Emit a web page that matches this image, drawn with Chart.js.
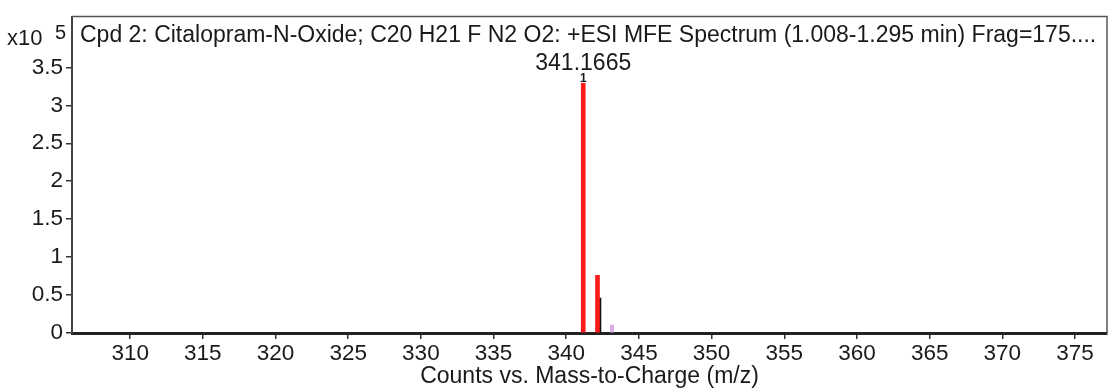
<!DOCTYPE html>
<html>
<head>
<meta charset="utf-8">
<script src="https://cdn.jsdelivr.net/npm/chart.js@4.4.1/dist/chart.umd.min.js"></script>
<style>
  html, body { margin: 0; padding: 0; background: #fff; }
  #wrap { width: 1115px; height: 389px; position: relative; }
</style>
</head>
<body>
<div id="wrap"><canvas id="spec"></canvas></div>
<script>
// spectrum sticks, counts in units of 10^5
const redMz = [341.17, 342.15];
const redCounts = [3.29, 0.76];
const blackMz = [342.32];
const blackCounts = [0.46];
const pinkMz = [343.15];
const pinkCounts = [0.105];

const xTicks = [310, 315, 320, 325, 330, 335, 340, 345, 350, 355, 360, 365, 370, 375];
const yTicks = [0, 0.5, 1, 1.5, 2, 2.5, 3, 3.5];

const titleText = "Cpd 2: Citalopram-N-Oxide; C20 H21 F N2 O2: +ESI MFE Spectrum (1.008-1.295 min) Frag=175....";
const peakLabel = "341.1665";
const peakMz = 341.17;
const peakCount = 3.29;

const FONT = "'Liberation Sans', Arial, sans-serif";
const TXT = "#1a1a1a";

function toPts(xs, ys) {
  return xs.map((x, i) => ({ x: x, y: ys[i] }));
}

const annotate = {
  id: "annotate",
  afterDraw(chart) {
    const { ctx, chartArea, scales } = chart;
    ctx.save();
    // frame top + right
    ctx.strokeStyle = "#555";
    ctx.lineWidth = 1.5;
    ctx.beginPath();
    ctx.moveTo(chartArea.left, chartArea.top);
    ctx.lineTo(chartArea.right, chartArea.top);
    ctx.lineTo(chartArea.right, chartArea.bottom);
    ctx.stroke();

    ctx.fillStyle = TXT;
    ctx.font = "23px " + FONT;
    ctx.textBaseline = "middle";
    ctx.textAlign = "left";
    ctx.fillText(titleText, chartArea.left + 8, chartArea.top + 19);

    // multiplier
    ctx.font = "22px " + FONT;
    ctx.fillText("x10", 7, 39);
    ctx.font = "20px " + FONT;
    ctx.fillText("5", 55, 33);

    // peak label
    const px = scales.x.getPixelForValue(peakMz);
    const py = scales.y.getPixelForValue(peakCount);
    ctx.textAlign = "center";
    ctx.font = "23px " + FONT;
    ctx.fillText(peakLabel, px, py - 20);
    ctx.font = "bold 12px " + FONT;
    ctx.fillText("1", px, py - 5);
    ctx.restore();
  }
};

new Chart("spec", {
  type: "bar",
  data: {
    datasets: [
      { data: toPts(redMz, redCounts), backgroundColor: "#ff1a1a", barThickness: 4 },
      { data: toPts(blackMz, blackCounts), backgroundColor: "#111", barThickness: 2 },
      { data: toPts(pinkMz, pinkCounts), backgroundColor: "#d9a8e6", barThickness: 3 },
    ],
  },
  options: {
    responsive: true,
    maintainAspectRatio: false,
    animation: false,
    grouped: false,
    layout: { padding: { left: 0, right: 8, top: 15, bottom: 0 } },
    plugins: { legend: { display: false }, tooltip: { enabled: false } },
    scales: {
      x: {
        type: "linear",
        min: 306,
        max: 377.2,
        offset: false,
        afterBuildTicks(scale) {
          scale.ticks = xTicks.map((v) => ({ value: v }));
        },
        afterFit(scale) {
          scale.height = 56;
        },
        grid: { offset: false, drawOnChartArea: false, drawTicks: true, tickLength: 6, color: "#333", lineWidth: 1.5 },
        border: { display: true, color: "#222", width: 3 },
        ticks: { color: TXT, font: { size: 22.5, family: FONT }, padding: 1, maxRotation: 0, autoSkip: false },
        title: {
          display: true,
          text: "Counts vs. Mass-to-Charge (m/z)",
          color: TXT,
          font: { size: 23, family: FONT },
          padding: { top: 0, bottom: -1 },
        },
      },
      y: {
        min: 0,
        max: 4.17,
        afterBuildTicks(scale) {
          scale.ticks = yTicks.map((v) => ({ value: v }));
        },
        afterFit(scale) {
          scale.width = 72;
        },
        grid: { drawOnChartArea: false, drawTicks: true, tickLength: 6, color: "#333", lineWidth: 1.5 },
        border: { display: true, color: "#444", width: 2 },
        ticks: {
          color: TXT,
          font: { size: 22.5, family: FONT },
          padding: 3,
          callback: (v) => String(v),
        },
      },
    },
  },
  plugins: [annotate],
});
</script>
</body>
</html>
